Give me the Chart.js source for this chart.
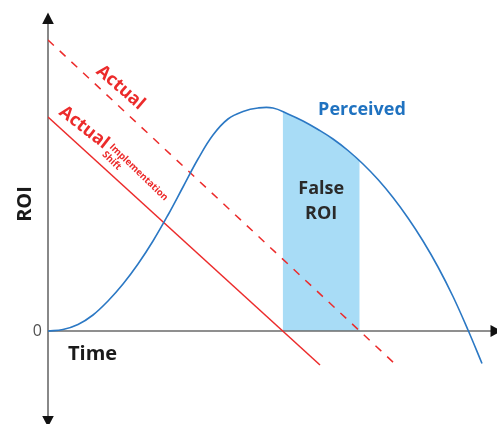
<!DOCTYPE html>
<html>
<head>
<meta charset="utf-8">
<script src="https://cdn.jsdelivr.net/npm/chart.js@4/dist/chart.umd.min.js"></script>
<style>
  html, body { margin: 0; padding: 0; background: #ffffff; }
  canvas { display: block; }
</style>
</head>
<body>
<canvas id="roi" width="497" height="424"></canvas>
<script>
// Perceived ROI over time
const perceivedTime = [0, 1.5, 3, 4.5, 6, 7.5, 9, 10.5, 12, 13.5, 15, 16.5, 18, 19.5, 21, 22.5, 24, 25.5, 27, 28.5, 30, 31.5, 33, 34.5, 36, 37.5, 39, 40.5, 42, 43.4];
const perceivedRoi  = [0, 0.15, 0.65, 1.6, 3.0, 4.7, 6.7, 9.0, 11.6, 14.4, 17.2, 19.6, 21.2, 21.95, 22.3, 22.3, 21.7, 21.0, 20.15, 19.2, 18.05, 16.7, 15.15, 13.35, 11.3, 9.0, 6.4, 3.45, 0.1, -3.25];

// Actual ROI (dashed) and actual ROI after the implementation shift (solid)
const actualTime  = [0, 34.6];
const actualRoi   = [29.1, -3.2];
const shiftedTime = [0, 27.2];
const shiftedRoi  = [21.4, -3.4];

// Band between the two zero crossings, under the perceived curve
const falseRoiTime = [23.47, 23.47, 24, 25.5, 27, 28.5, 30, 31.17, 31.17];
const falseRoiTop  = [0, 21.95, 21.7, 21.0, 20.15, 19.2, 18.05, 17.0, 0];

const RED = '#ec2b2b';
const BLUE = '#2b78c4';
const SHADE = '#a8dcf6';
const FONT = "'Open Sans', 'DejaVu Sans', sans-serif";

const toPoints = (xs, ys) => xs.map((x, i) => ({ x, y: ys[i] }));

const axesAndLabels = {
  id: 'axesAndLabels',
  afterDatasetDraw(chart, args) {
    if (args.index !== 0) return; // axes sit just above the shaded band
    const { ctx, scales: { x, y } } = chart;
    const x0 = x.getPixelForValue(0);
    const y0 = y.getPixelForValue(0);
    ctx.save();
    ctx.strokeStyle = '#6b6b6b';
    ctx.lineWidth = 1.6;
    ctx.beginPath();
    ctx.moveTo(x0, 22);
    ctx.lineTo(x0, 418);
    ctx.moveTo(x0, y0);
    ctx.lineTo(492, y0);
    ctx.stroke();
    ctx.fillStyle = '#111111';
    // up arrow
    ctx.beginPath();
    ctx.moveTo(x0, 12.5); ctx.lineTo(x0 - 5.8, 24); ctx.lineTo(x0 + 5.8, 24); ctx.closePath(); ctx.fill();
    // down arrow
    ctx.beginPath();
    ctx.moveTo(x0, 427); ctx.lineTo(x0 - 5.8, 416); ctx.lineTo(x0 + 5.8, 416); ctx.closePath(); ctx.fill();
    // right arrow
    ctx.beginPath();
    ctx.moveTo(502, y0); ctx.lineTo(490.5, y0 - 6); ctx.lineTo(490.5, y0 + 6); ctx.closePath(); ctx.fill();
    ctx.restore();
  },
  afterDatasetsDraw(chart) {
    const { ctx, scales: { x, y } } = chart;
    const px = v => x.getPixelForValue(v);
    const py = v => y.getPixelForValue(v);
    const text = (str, cx, cy, font, color, angle, align = 'center', base = 'middle') => {
      ctx.save();
      ctx.translate(cx, cy);
      ctx.rotate(angle * Math.PI / 180);
      ctx.font = font;
      ctx.fillStyle = color;
      ctx.textAlign = align;
      ctx.textBaseline = base;
      ctx.fillText(str, 0, 0);
      ctx.restore();
    };
    // axis texts
    text('0', px(0) - 6, py(0), `400 16px ${FONT}`, '#505050', 0, 'right');
    text('Time', px(2.0), py(-2.9), `700 20px ${FONT}`, '#1a1a1a', 0, 'left', 'alphabetic');
    text('ROI', 25, py(12.7), `700 20px ${FONT}`, '#1a1a1a', -90);
    // series texts
    text('Actual', px(7.25), py(24.35), `700 18px ${FONT}`, RED, 41);
    text('Actual', px(3.6), py(20.35), `700 18px ${FONT}`, RED, 38);
    ctx.save();
    ctx.translate(px(6.1), py(18.35));
    ctx.rotate(44 * Math.PI / 180);
    ctx.font = `700 9.5px ${FONT}`;
    ctx.fillStyle = RED;
    ctx.textAlign = 'left';
    ctx.textBaseline = 'alphabetic';
    ctx.fillText('Implementation', 0, 0);
    ctx.fillText('Shift', 0, 10.5);
    ctx.restore();
    text('Perceived', px(31.4), py(21.6), `700 18px ${FONT}`, '#1f72c0', 0, 'center', 'alphabetic');
    const mid = (falseRoiTime[0] + falseRoiTime[falseRoiTime.length - 1]) / 2;
    text('False', px(mid), py(13.7), `700 18px ${FONT}`, '#2a2a2a', 0, 'center', 'alphabetic');
    text('ROI', px(mid), py(11.2), `700 18px ${FONT}`, '#2a2a2a', 0, 'center', 'alphabetic');
  }
};

new Chart(document.getElementById('roi'), {
  type: 'line',
  data: {
    datasets: [
      {
        label: 'False ROI',
        data: toPoints(falseRoiTime, falseRoiTop),
        borderWidth: 0,
        borderColor: 'rgba(0,0,0,0)',
        backgroundColor: SHADE,
        fill: 'origin',
        tension: 0,
        pointRadius: 0,
        order: 10
      },
      {
        label: 'Actual',
        data: toPoints(actualTime, actualRoi),
        borderColor: RED,
        borderWidth: 1.5,
        borderDash: [8, 8],
        pointRadius: 0,
        fill: false,
        order: 1
      },
      {
        label: 'Actual (implementation shift)',
        data: toPoints(shiftedTime, shiftedRoi),
        borderColor: RED,
        borderWidth: 1.5,
        pointRadius: 0,
        fill: false,
        order: 1
      },
      {
        label: 'Perceived',
        data: toPoints(perceivedTime, perceivedRoi),
        borderColor: BLUE,
        borderWidth: 1.6,
        pointRadius: 0,
        fill: false,
        tension: 0.4,
        order: 0
      }
    ]
  },
  options: {
    responsive: false,
    animation: false,
    layout: { padding: { left: 48, right: 0, top: 11, bottom: 3 } },
    scales: {
      x: { type: 'linear', min: 0, max: 44.9, display: false },
      y: { type: 'linear', min: -9, max: 32, display: false }
    },
    plugins: {
      legend: { display: false },
      tooltip: { enabled: false }
    }
  },
  plugins: [axesAndLabels]
});
</script>
</body>
</html>
